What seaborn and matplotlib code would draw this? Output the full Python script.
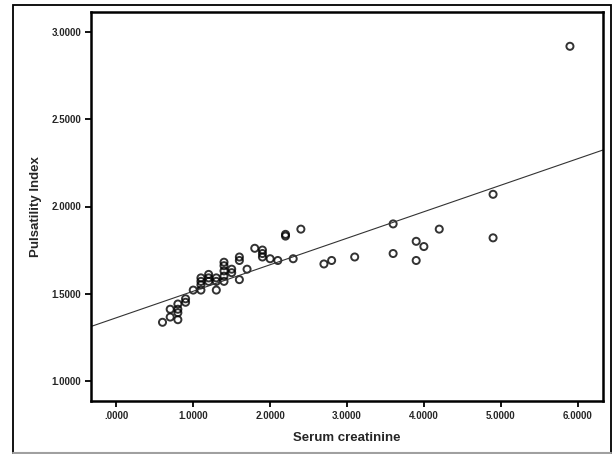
import numpy as np
import pandas as pd
import matplotlib
matplotlib.use("Agg")
import matplotlib.pyplot as plt
from matplotlib.patches import Rectangle
from matplotlib.lines import Line2D
from matplotlib.ticker import FuncFormatter, MultipleLocator
import seaborn as sns

# nilai dibaca dari gambar referensi
creatinine = [0.60, 0.70, 0.70, 0.80, 0.80, 0.80, 0.80, 0.90, 0.90,
              1.00, 1.10, 1.10, 1.10, 1.10, 1.20, 1.20, 1.20,
              1.30, 1.30, 1.30, 1.40, 1.40, 1.40, 1.40, 1.40,
              1.50, 1.50, 1.60, 1.60, 1.60, 1.70, 1.80,
              1.90, 1.90, 1.90, 2.00, 2.10, 2.20, 2.20, 2.30, 2.40,
              2.70, 2.80, 3.10, 3.60, 3.60, 3.90, 3.90, 4.00, 4.20,
              4.90, 4.90, 5.90]
pulsatility = [1.335, 1.365, 1.41, 1.35, 1.39, 1.41, 1.44, 1.45, 1.47,
               1.52, 1.52, 1.55, 1.57, 1.59, 1.57, 1.59, 1.61,
               1.52, 1.57, 1.59, 1.57, 1.60, 1.63, 1.66, 1.68,
               1.62, 1.64, 1.58, 1.69, 1.71, 1.64, 1.76,
               1.71, 1.73, 1.75, 1.70, 1.69, 1.83, 1.84, 1.70, 1.87,
               1.67, 1.69, 1.71, 1.90, 1.73, 1.80, 1.69, 1.77, 1.87,
               2.07, 1.82, 2.92]

df = pd.DataFrame({"Serum creatinine": creatinine, "Pulsatility Index": pulsatility})

sns.set_style("white")
plt.rcParams["font.family"] = ["Liberation Sans", "DejaVu Sans"]

fig = plt.figure(figsize=(6.13, 4.54), dpi=100)
ax = fig.add_axes([91 / 613, 53 / 454, 512 / 613, 389 / 454])
ax.set_xlim(-0.33, 6.33)
ax.set_ylim(0.883, 3.117)

sns.regplot(data=df, x="Serum creatinine", y="Pulsatility Index", ax=ax,
            ci=None, truncate=False,
            scatter_kws=dict(s=26, facecolors="none", edgecolors="black", linewidths=1.4),
            line_kws=dict(color="#333333", linewidth=0.8))
ax.set_xlim(-0.33, 6.33)
ax.set_ylim(0.883, 3.117)

fmt = FuncFormatter(lambda v, p: f"{v:.4f}"[1:] if abs(v) < 1e-9 else f"{v:.4f}")
ax.xaxis.set_major_locator(MultipleLocator(1.0))
ax.yaxis.set_major_locator(MultipleLocator(0.5))
ax.xaxis.set_major_formatter(fmt)
ax.yaxis.set_major_formatter(fmt)
ax.tick_params(direction="out", length=4, width=1.3, labelsize=7, pad=3,
               bottom=True, left=True, color="black")
for lab in ax.get_xticklabels() + ax.get_yticklabels():
    lab.set_fontweight("bold")
for sp in ax.spines.values():
    sp.set_linewidth(1.8)
    sp.set_color("black")

ax.set_xlabel("Serum creatinine", fontsize=9.5, fontweight="bold", labelpad=8)
ax.set_ylabel("Pulsatility Index", fontsize=9.5, fontweight="bold", labelpad=7)

# bingkai luar: hitam di kiri/atas/kanan, abu-abu di bawah
fig.patches.append(Rectangle((13 / 613, 1.5 / 454), 598 / 613, 447.5 / 454,
                             transform=fig.transFigure, fill=False,
                             edgecolor="black", linewidth=1.3))
fig.lines.append(Line2D([13 / 613, 611 / 613], [1.5 / 454, 1.5 / 454],
                        transform=fig.transFigure, color="#a0a0a0", linewidth=1.5))

fig.savefig("out.png", dpi=100)
